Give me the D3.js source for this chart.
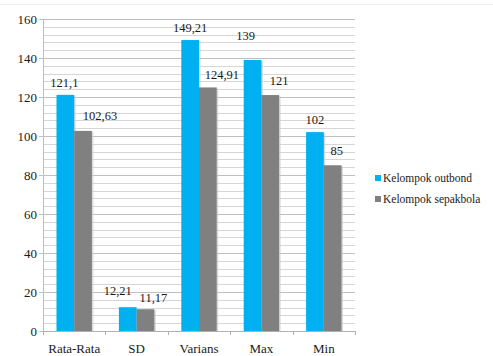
<!DOCTYPE html>
<html>
<head>
<meta charset="utf-8">
<script src="https://cdn.jsdelivr.net/npm/d3@7/dist/d3.min.js"></script>
<style>
  html, body { margin: 0; padding: 0; background: #fff; }
  svg { display: block; }
  svg text { font-family: "Liberation Serif", "DejaVu Serif", serif !important; fill: #1a1a1a; }
</style>
</head>
<body>
<svg id="chart" width="493" height="356"></svg>
<script>
// Statistics per category for the two groups
const categories = ["Rata-Rata", "SD", "Varians", "Max", "Min"];
const seriesNames = ["Kelompok outbond", "Kelompok sepakbola"];
const outbond = [121.1, 12.21, 149.21, 139, 102];
const sepakbola = [102.63, 11.17, 124.91, 121, 85];
const outbondLabels = ["121,1", "12,21", "149,21", "139", "102"];
const sepakbolaLabels = ["102,63", "11,17", "124,91", "121", "85"];
const yTicks = [0, 20, 40, 60, 80, 100, 120, 140, 160];

// Label nudges (px) so the value labels sit clear of each other
const labelNudge = [
  [[-1, -8], [-10, -12], [0, -8], [-7, -20], [0, -8]],
  [[17, -11], [8, -7], [14, -8], [9, -10], [4, -10]]
];

const colors = ["#00b0f0", "#808080"];
const serif = "'Liberation Serif', 'DejaVu Serif', serif";
const svg = d3.select("#chart");
const plot = { left: 43, right: 355, top: 19, bottom: 331 };

const x0 = d3.scaleBand().domain(categories).range([plot.left, plot.right]).padding(0);
const x1 = d3.scaleBand().domain(seriesNames).range([0, x0.bandwidth()])
  .paddingInner(0).paddingOuter(0.763);
const y = d3.scaleLinear().domain([0, 160]).range([plot.bottom, plot.top]);

// faint frame line at the top
svg.append("line").attr("x1", 0).attr("x2", 493).attr("y1", 4.5).attr("y2", 4.5)
  .attr("stroke", "#eeeeee");

// minor gridlines every 4 units
const minor = d3.range(0, 161, 4).filter(v => v % 20 !== 0);
svg.append("g").selectAll("line").data(minor).join("line")
  .attr("x1", plot.left).attr("x2", plot.right)
  .attr("y1", d => Math.round(y(d)) + 0.5).attr("y2", d => Math.round(y(d)) + 0.5)
  .attr("stroke", "#d6d6d6").attr("stroke-width", 1);

// major gridlines with the y axis
const yAxis = d3.axisLeft(y).tickValues(yTicks).tickSize(-(plot.right - plot.left)).tickSizeOuter(0).tickPadding(10);
const gy = svg.append("g").attr("transform", `translate(${plot.left},0)`).call(yAxis)
  .attr("font-family", serif);
gy.select(".domain").attr("stroke", "#bdbdbd");
gy.selectAll(".tick line").attr("stroke", "#c0c0c0").attr("x1", -4);
gy.selectAll(".tick text").attr("font-size", 13).attr("fill", "#1a1a1a").attr("dx", 4);

// bars with a soft right shadow
const groups = [outbond, sepakbola];
groups.forEach((vals, si) => {
  const g = svg.append("g");
  g.selectAll("rect.shadow").data(vals).join("rect")
    .attr("class", "shadow")
    .attr("x", (d, i) => x0(categories[i]) + x1(seriesNames[si]) + 1.5)
    .attr("y", d => y(d) + 1)
    .attr("width", x1.bandwidth())
    .attr("height", d => plot.bottom - y(d) - 1)
    .attr("fill", "#c9c9c9").attr("opacity", 0.7);
  g.selectAll("rect.bar").data(vals).join("rect")
    .attr("class", "bar")
    .attr("x", (d, i) => x0(categories[i]) + x1(seriesNames[si]))
    .attr("y", d => y(d))
    .attr("width", x1.bandwidth())
    .attr("height", d => plot.bottom - y(d))
    .attr("fill", colors[si]);
});

// x axis
const xAxis = d3.axisBottom(x0).tickSize(0).tickPadding(13);
const gx = svg.append("g").attr("transform", `translate(0,${plot.bottom})`).call(xAxis)
  .attr("font-family", serif);
gx.select(".domain").attr("stroke", "#b0b0b0");
gx.selectAll(".tick text").attr("font-size", 13).attr("fill", "#1a1a1a");
// separators between categories
const seps = categories.map(c => x0(c)).concat([plot.right]);
svg.append("g").selectAll("line").data(seps).join("line")
  .attr("x1", d => Math.round(d) + 0.5).attr("x2", d => Math.round(d) + 0.5)
  .attr("y1", plot.bottom).attr("y2", plot.bottom + 4)
  .attr("stroke", "#b0b0b0");

// value labels
const labelSets = [outbondLabels, sepakbolaLabels];
groups.forEach((vals, si) => {
  svg.append("g").attr("font-family", serif).selectAll("text").data(vals).join("text")
    .attr("x", (d, i) => x0(categories[i]) + x1(seriesNames[si]) + x1.bandwidth() / 2 + labelNudge[si][i][0])
    .attr("y", (d, i) => y(d) + labelNudge[si][i][1])
    .attr("text-anchor", "middle")
    .attr("font-size", 12.5)
    .text((d, i) => labelSets[si][i]);
});

// legend
const legend = svg.append("g").attr("transform", "translate(375,175)").attr("font-family", serif);
seriesNames.forEach((name, i) => {
  const row = legend.append("g").attr("transform", `translate(0,${i * 21})`);
  row.append("rect").attr("width", 6).attr("height", 6).attr("fill", colors[i]);
  row.append("text").attr("x", 8).attr("y", 7).attr("font-size", 11.5).text(name);
});
</script>
</body>
</html>
